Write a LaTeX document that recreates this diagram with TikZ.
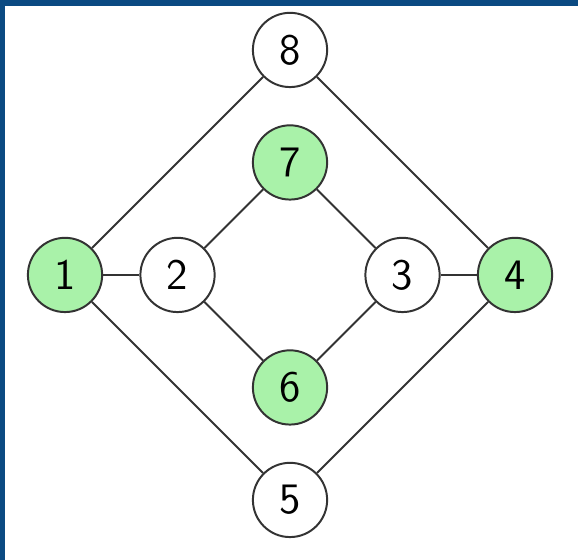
\documentclass[tikz,border=0pt]{standalone}
\usepackage{tikz}
\usetikzlibrary{positioning}
\definecolor{slideblue}{HTML}{0B4A82}
\definecolor{nodegreen}{HTML}{A9F2A9}

\begin{document}
\begin{tikzpicture}[
        vertex/.style={circle, draw=black!80, line width=0.5, minimum size=0.66cm, inner sep=0pt, font=\fontsize{11}{13}\sffamily},
        marked/.style={vertex, fill=nodegreen},
        edge/.style={draw=black!80, line width=0.5}
    ]
            \fill[slideblue] (-2.578,-2.533) rectangle (2.56,2.444);
            \fill[white] (-2.53,-2.533) rectangle (2.56,2.395);
            \useasboundingbox (-2.578,-2.533) rectangle (2.56,2.444);

            \node[marked] (n1) at (-2,0) {1};
            \node[vertex] (n2) at (-1,0) {2};
            \node[vertex] (n3) at (1,0) {3};
            \node[marked] (n4) at (2,0) {4};
            \node[vertex] (n5) at (0,-2) {5};
            \node[marked] (n6) at (0,-1) {6};
            \node[marked] (n7) at (0,1) {7};
            \node[vertex] (n8) at (0,2) {8};

            \draw[edge] (n1) -- (n8);
            \draw[edge] (n1) -- (n2);
            \draw[edge] (n1) -- (n5);
            \draw[edge] (n2) -- (n7);
            \draw[edge] (n2) -- (n6);
            \draw[edge] (n7) -- (n3);
            \draw[edge] (n6) -- (n3);
            \draw[edge] (n3) -- (n4);
            \draw[edge] (n8) -- (n4);
            \draw[edge] (n5) -- (n4);
        \end{tikzpicture}
\end{document}
